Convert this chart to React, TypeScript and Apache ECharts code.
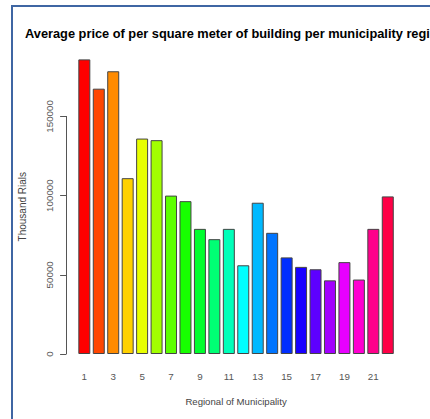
import React, { useEffect, useRef } from "react";
import * as echarts from "echarts";

const categories = ["1","2","3","4","5","6","7","8","9","10","11","12","13","14","15","16","17","18","19","20","21","22"];
const values = [186000, 167500, 178500, 111000, 136000, 135000, 100000, 96500, 79000, 72500, 79000, 56000, 95500, 76500, 61000, 55000, 53500, 46500, 58000, 47000, 79000, 99500];
const barColors = ["#FF0000","#FF4600","#FF8B00","#FFD100","#E8FF00","#A2FF00","#5DFF00","#17FF00","#00FF2E","#00FF74","#00FFB9","#00FFFF","#00B9FF","#0074FF","#002EFF","#1700FF","#5D00FF","#A200FF","#E800FF","#FF00D1","#FF008B","#FF0046"];
const yMin = 0;
const yMax = 150000;
const yInterval = 50000;

const titleText = "Average price of per square meter of building per municipality regi";
const xName = "Regional of Municipality";
const yName = "Thousand Rials";

const FONT = "'Liberation Sans', Arial, sans-serif";

export default function App() {
  const ref = useRef<HTMLDivElement>(null);
  useEffect(() => {
    if (!ref.current) return;
    const chart = echarts.init(ref.current, null, { renderer: "svg" });
    chart.setOption({
      animation: false,
      backgroundColor: "#ffffff",
      title: {
        text: titleText,
        left: 25,
        top: 27,
        padding: 0,
        textStyle: { fontFamily: FONT, fontSize: 12.8, fontWeight: "bold", color: "#000" },
      },
      grid: { left: 77.1, right: 35, top: 116.4, bottom: 65, containLabel: false },
      xAxis: {
        type: "category",
        data: categories,
        boundaryGap: true,
        axisLine: { show: false },
        axisTick: { show: false },
        axisLabel: { interval: 1, margin: 17, fontFamily: FONT, fontSize: 9.8, color: "#555" },
        name: xName,
        nameLocation: "middle",
        nameGap: 42,
        nameTextStyle: { fontFamily: FONT, fontSize: 9.6, color: "#444" },
      },
      yAxis: {
        type: "value",
        min: yMin,
        max: yMax,
        interval: yInterval,
        offset: 11,
        splitLine: { show: false },
        axisLine: { show: true, lineStyle: { color: "#555", width: 1 } },
        axisTick: { show: true, length: 6, lineStyle: { color: "#555", width: 1 } },
        axisLabel: {
          rotate: 90,
          margin: 12,
          fontFamily: FONT,
          fontSize: 9.8,
          color: "#555",
          formatter: (v: number) => String(v),
        },
      },
      series: [
        {
          type: "bar",
          data: values.map((v, i) => ({ value: v, itemStyle: { color: barColors[i] } })),
          barCategoryGap: "17%",
          clip: false,
          itemStyle: { borderColor: "#444", borderWidth: 1 },
        },
      ],
      graphic: [
        {
          type: "rect",
          shape: { x: 12, y: 6, width: 600, height: 600 },
          style: { fill: "none", stroke: "#3f66a3", lineWidth: 2 },
          silent: true,
        },
        {
          type: "text",
          x: 22,
          y: 206.7,
          rotation: Math.PI / 2,
          style: {
            text: yName,
            fontFamily: FONT,
            fontSize: 10,
            fill: "#444",
            align: "center",
            verticalAlign: "middle",
          },
        },
      ],
    });
    return () => chart.dispose();
  }, []);
  return (
    <div
      ref={ref}
      style={{ position: "absolute", left: 0, top: 0, width: 430, height: 419 }}
    />
  );
}
